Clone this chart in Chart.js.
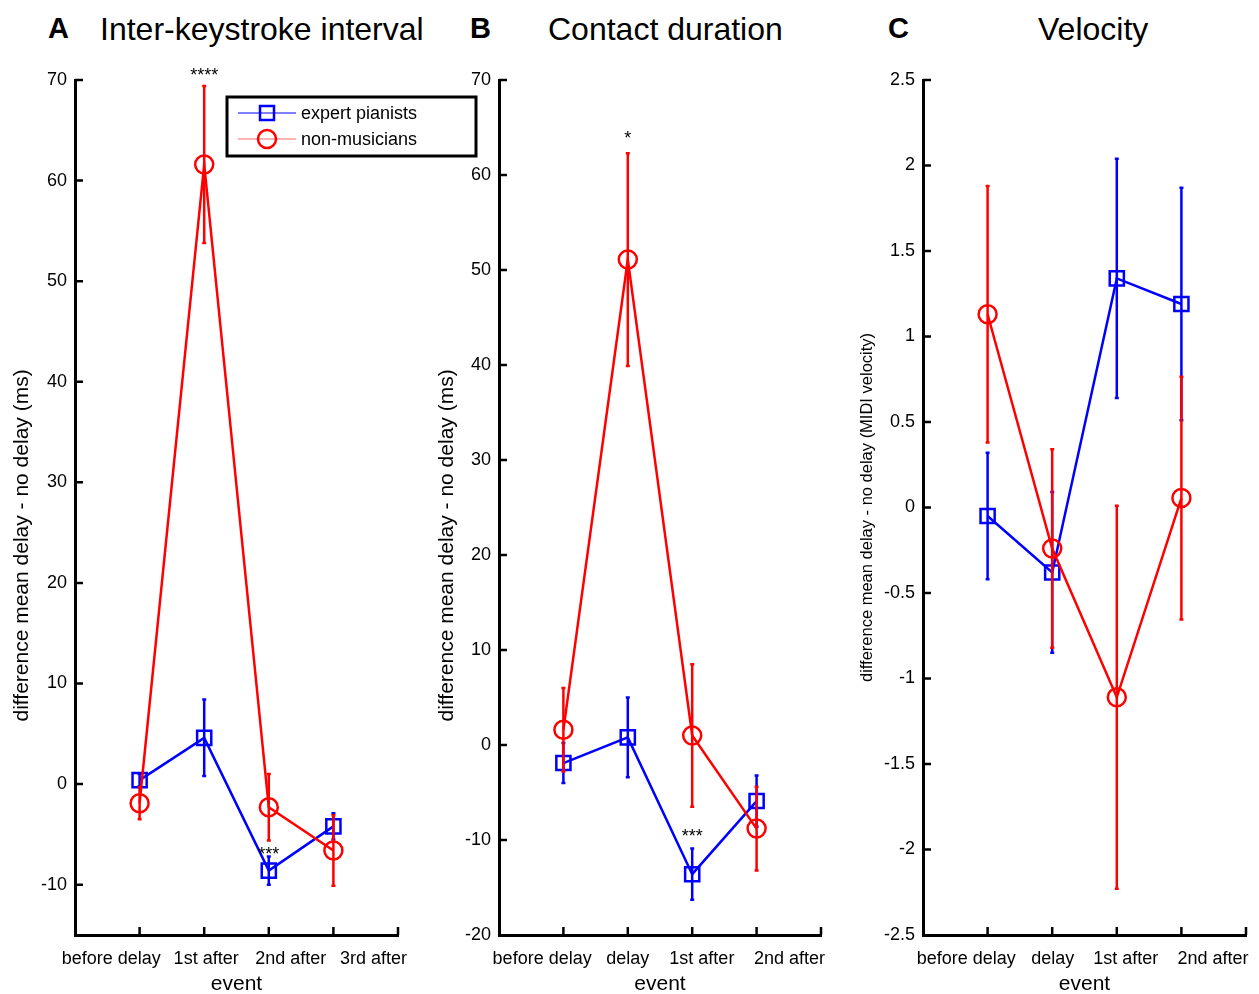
<!DOCTYPE html>
<html><head><meta charset="utf-8">
<script src="https://cdn.jsdelivr.net/npm/chart.js@4/dist/chart.umd.min.js"></script>
<style>
body{margin:0;background:#fff;width:1259px;height:994px;position:relative;overflow:hidden;font-family:"Liberation Sans",Arial,sans-serif;}
canvas{position:absolute;top:0;}
.lbl{position:absolute;white-space:nowrap;color:#000;line-height:1;}
</style></head><body>
<div class="lbl" style="left:48px;top:14px;font-weight:bold;font-size:29px">A</div>
<div class="lbl" style="left:100px;top:13px;font-size:32px">Inter-keystroke interval</div>
<div class="lbl" style="left:470px;top:14px;font-weight:bold;font-size:29px">B</div>
<div class="lbl" style="left:548px;top:13px;font-size:32px">Contact duration</div>
<div class="lbl" style="left:888px;top:14px;font-weight:bold;font-size:29px">C</div>
<div class="lbl" style="left:1038px;top:13px;font-size:32px">Velocity</div>
<canvas id="cA" width="480" height="994" style="left:0px"></canvas>
<canvas id="cB" width="420" height="994" style="left:425px"></canvas>
<canvas id="cC" width="414" height="994" style="left:845px"></canvas>
<script>
// ---------- data ----------
const categoriesA = ['before delay', '1st after', '2nd after', '3rd after'];
const categoriesBC = ['before delay', 'delay', '1st after', '2nd after'];
const seriesNames = ['expert pianists', 'non-musicians'];

// A: inter-keystroke interval (ms)
const expertA = [0.4, 4.6, -8.6, -4.2];
const expertErrA = [0.6, 3.8, 1.4, 1.3];
const novicesA = [-1.9, 61.6, -2.3, -6.6];
const novicesErrA = [1.6, 7.8, 3.3, 3.5];
const yTicksA = [-10, 0, 10, 20, 30, 40, 50, 60, 70];

// B: contact duration (ms)
const expertB = [-1.9, 0.8, -13.6, -5.9];
const expertErrB = [2.1, 4.2, 2.7, 2.7];
const novicesB = [1.6, 51.1, 1.0, -8.8];
const novicesErrB = [4.4, 11.2, 7.5, 4.4];
const yTicksB = [-20, -10, 0, 10, 20, 30, 40, 50, 60, 70];

// C: velocity (MIDI velocity)
const expertC = [-0.05, -0.38, 1.34, 1.19];
const expertErrC = [0.37, 0.47, 0.70, 0.68];
const novicesC = [1.13, -0.24, -1.11, 0.055];
const novicesErrC = [0.75, 0.58, 1.12, 0.71];
const yTicksC = [-2.5, -2, -1.5, -1, -0.5, 0, 0.5, 1, 1.5, 2, 2.5];

// x tick marks (category positions plus axis end)
const xTickMarks = [1, 2, 3, 4, 5];

// significance markers: [category position, y value, text]
const starsA = [[2, 69.9, '****'], [3, -7.5, '***']];
const starsB = [[2, 63.3, '*'], [3, -10.2, '***']];
const starsC = [];

// ---------- layout (where the category labels sit along the axis) ----------
const labelPosA = [0.56, 2.03, 3.34, 4.62];
const labelPosB = [0.67, 2.0, 3.15, 4.51];
const labelPosC = [0.67, 2.01, 3.14, 4.49];

// ---------- plugins ----------
const FONT = '"Liberation Sans", Arial, sans-serif';
const BLUE = '#0000ff', RED = '#ff0000';

const errorBars = {
  id: 'errorBars',
  afterDatasetDraw(chart, args) {
    const ds = chart.data.datasets[args.index];
    if (!ds.errors) return;
    const ctx = chart.ctx, xs = chart.scales.x, ys = chart.scales.y;
    ctx.save();
    ctx.strokeStyle = ds.borderColor;
    ctx.lineWidth = 2.5;
    ds.data.forEach((p, i) => {
      const e = ds.errors[i];
      const x = xs.getPixelForValue(p.x);
      const y1 = ys.getPixelForValue(p.y + e), y2 = ys.getPixelForValue(p.y - e);
      ctx.beginPath();
      ctx.moveTo(x, y1); ctx.lineTo(x, y2);
      ctx.moveTo(x - 2, y1); ctx.lineTo(x + 2, y1);
      ctx.moveTo(x - 2, y2); ctx.lineTo(x + 2, y2);
      ctx.stroke();
    });
    ctx.restore();
  }
};

const inwardTicks = {
  id: 'inwardTicks',
  afterDraw(chart) {
    const ctx = chart.ctx, a = chart.chartArea, xs = chart.scales.x, ys = chart.scales.y;
    ctx.save();
    ctx.strokeStyle = '#000';
    ctx.lineWidth = 2.5;
    ctx.beginPath();
    ys.ticks.forEach(t => {
      const y = ys.getPixelForValue(t.value);
      if (Math.abs(y - a.bottom) < 1) return;
      ctx.moveTo(a.left, y); ctx.lineTo(a.left + 8, y);
    });
    xTickMarks.forEach(v => {
      const x = xs.getPixelForValue(v);
      ctx.moveTo(x, a.bottom); ctx.lineTo(x, a.bottom - 8);
    });
    ctx.stroke();
    ctx.restore();
  }
};

const stars = {
  id: 'stars',
  afterDraw(chart, args, opts) {
    const ctx = chart.ctx, xs = chart.scales.x, ys = chart.scales.y;
    ctx.save();
    ctx.fillStyle = '#000';
    ctx.font = '18px ' + FONT;
    ctx.textAlign = 'center';
    ctx.textBaseline = 'alphabetic';
    (opts.items || []).forEach(s => ctx.fillText(s[2], xs.getPixelForValue(s[0]), ys.getPixelForValue(s[1])));
    ctx.restore();
  }
};

const boxLegend = {
  id: 'boxLegend',
  afterDraw(chart, args, opts) {
    if (!opts.show) return;
    const ctx = chart.ctx;
    const ds = chart.data.datasets;
    ctx.save();
    ctx.strokeStyle = '#000';
    ctx.lineWidth = 3;
    ctx.fillStyle = '#fff';
    ctx.beginPath(); ctx.rect(227, 97, 249, 59); ctx.fill(); ctx.stroke();
    const rows = [{ d: ds.find(d => d.label === seriesNames[0]), y: 113, line: BLUE },
                  { d: ds.find(d => d.label === seriesNames[1]), y: 139, line: '#ff6a6a' }];
    rows.forEach(r => {
      ctx.lineWidth = 1.2;
      ctx.strokeStyle = r.line;
      ctx.beginPath(); ctx.moveTo(238, r.y); ctx.lineTo(296, r.y); ctx.stroke();
      ctx.lineWidth = 2.5;
      ctx.strokeStyle = r.d.borderColor;
      ctx.beginPath();
      if (r.d.pointStyle === 'rect') ctx.rect(260, r.y - 7, 14, 14);
      else ctx.arc(267, r.y, 9, 0, Math.PI * 2);
      ctx.stroke();
      ctx.fillStyle = '#000';
      ctx.font = '18px ' + FONT;
      ctx.textBaseline = 'middle';
      ctx.textAlign = 'left';
      ctx.fillText(r.d.label, 301, r.y + 1);
    });
    ctx.restore();
  }
};

// ---------- chart builder ----------
function pts(vals) { return vals.map((v, i) => ({ x: i + 1, y: v })); }

function makeChart(id, cats, labelPos, ex, exErr, nm, nmErr, yMin, yMax, yTicks, yTitle, yTitleSize, yTitlePad, yWidth, padRight, starItems, showLegend) {
  return new Chart(document.getElementById(id), {
    type: 'line',
    data: {
      datasets: [
        { label: seriesNames[1], data: pts(nm), errors: nmErr, borderColor: RED, backgroundColor: 'rgba(0,0,0,0)',
          borderWidth: 2.5, pointStyle: 'circle', pointRadius: 9, pointBorderWidth: 2.5,
          pointBackgroundColor: 'rgba(0,0,0,0)', pointBorderColor: RED, order: 0, tension: 0 },
        { label: seriesNames[0], data: pts(ex), errors: exErr, borderColor: BLUE, backgroundColor: 'rgba(0,0,0,0)',
          borderWidth: 2.5, pointStyle: 'rect', pointRadius: 10, pointBorderWidth: 2.5,
          pointBackgroundColor: 'rgba(0,0,0,0)', pointBorderColor: BLUE, order: 1, tension: 0 }
      ]
    },
    options: {
      responsive: false, animation: false, devicePixelRatio: 1,
      layout: { padding: { left: 0, right: padRight, top: 80, bottom: 0 } },
      plugins: {
        legend: { display: false }, tooltip: { enabled: false }, title: { display: false },
        stars: { items: starItems }, boxLegend: { show: showLegend }
      },
      scales: {
        x: {
          type: 'linear', min: 0, max: 5,
          afterBuildTicks: s => { s.ticks = labelPos.map(v => ({ value: v })); },
          afterFit: s => { s.height = 59; s.paddingLeft = 0; s.paddingRight = 0; },
          grid: { display: false, drawTicks: false, tickLength: 0 },
          border: { display: true, color: '#000', width: 3 },
          ticks: { autoSkip: false, maxRotation: 0, padding: 13, color: '#000',
                   font: { family: FONT, size: 18 }, callback: (v, i) => cats[i] },
          title: { display: true, text: 'event', color: '#000', font: { family: FONT, size: 21, lineHeight: 0.9 }, padding: { top: 0, bottom: 0 } }
        },
        y: {
          type: 'linear', min: yMin, max: yMax,
          afterBuildTicks: s => { s.ticks = yTicks.map(v => ({ value: v })); },
          afterFit: s => { s.width = yWidth; },
          grid: { display: false, drawTicks: false, tickLength: 0 },
          border: { display: true, color: '#000', width: 3 },
          ticks: { padding: 8, color: '#000', font: { family: FONT, size: 18 }, callback: v => String(v) },
          title: { display: true, text: yTitle + ' '.repeat(yTitlePad), color: '#000',
                   font: { family: FONT, size: yTitleSize }, padding: { top: 22 - yTitleSize * 0.6, bottom: 0 } }
        }
      }
    },
    plugins: [errorBars, inwardTicks, stars, boxLegend]
  });
}

makeChart('cA', categoriesA, labelPosA, expertA, expertErrA, novicesA, novicesErrA, -15, 70, yTicksA,
  'difference mean delay - no delay (ms)', 21, 13, 75, 82, starsA, true);
makeChart('cB', categoriesBC, labelPosB, expertB, expertErrB, novicesB, novicesErrB, -20, 70, yTicksB,
  'difference mean delay - no delay (ms)', 21, 13, 74, 24, starsB, false);
makeChart('cC', categoriesBC, labelPosC, expertC, expertErrC, novicesC, novicesErrC, -2.5, 2.5, yTicksC,
  'difference mean delay - no delay (MIDI velocity)', 16.5, 0, 78, 13, starsC, false);
</script>
</body></html>
